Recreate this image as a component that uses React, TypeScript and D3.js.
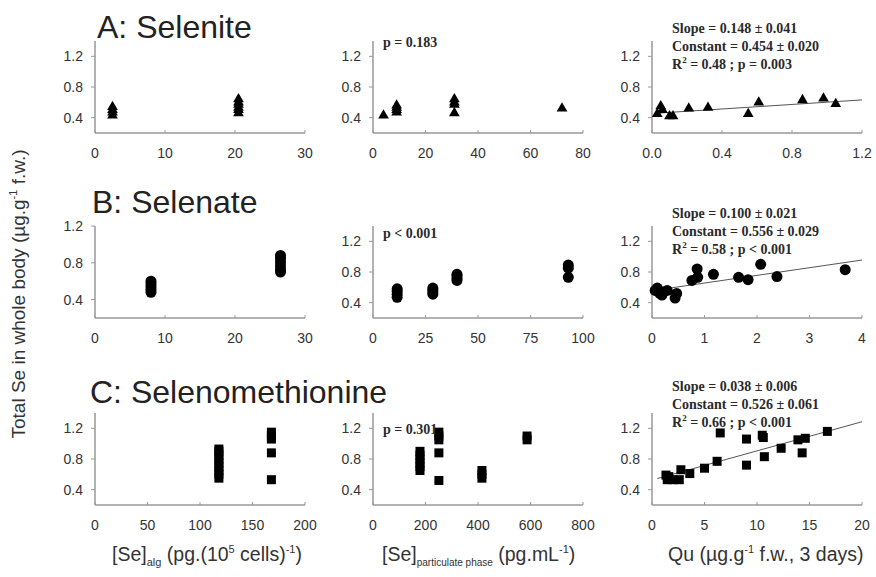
import React from 'react'
import * as d3 from 'd3'

// A: Selenite  [x, total Se]
const seleniteAlg = [[2.5, 0.43], [2.5, 0.47], [2.5, 0.5], [2.5, 0.54], [20.5, 0.46], [20.5, 0.5], [20.5, 0.53], [20.5, 0.57], [20.5, 0.6], [20.5, 0.64]]
const seleniteWater = [[4, 0.43], [9, 0.47], [9, 0.5], [9, 0.53], [9, 0.56], [31, 0.46], [31, 0.57], [31, 0.6], [31, 0.64], [72, 0.52]]
const seleniteQu = [[0.03, 0.45], [0.05, 0.55], [0.06, 0.5], [0.1, 0.42], [0.12, 0.42], [0.21, 0.52], [0.32, 0.53], [0.55, 0.45], [0.61, 0.6], [0.86, 0.63], [0.98, 0.65], [1.05, 0.58]]

// B: Selenate
const selenateAlg = [[8, 0.48], [8, 0.51], [8, 0.54], [8, 0.57], [8, 0.6], [26.5, 0.7], [26.5, 0.73], [26.5, 0.77], [26.5, 0.81], [26.5, 0.85], [26.5, 0.88]]
const selenateWater = [[11.5, 0.47], [11.5, 0.51], [11.5, 0.55], [11.5, 0.58], [28.5, 0.51], [28.5, 0.54], [28.5, 0.57], [28.5, 0.59], [40, 0.69], [40, 0.72], [40, 0.75], [40, 0.77], [93, 0.73], [93, 0.85], [93, 0.89]]
const selenateQu = [[0.06, 0.56], [0.1, 0.59], [0.15, 0.52], [0.19, 0.5], [0.21, 0.54], [0.29, 0.56], [0.44, 0.46], [0.47, 0.52], [0.76, 0.69], [0.86, 0.84], [0.87, 0.73], [1.17, 0.77], [1.65, 0.73], [1.83, 0.7], [2.07, 0.9], [2.38, 0.74], [3.68, 0.83]]

// C: Selenomethionine
const semetAlg = [[118, 0.55], [118, 0.6], [118, 0.65], [118, 0.7], [118, 0.75], [118, 0.8], [118, 0.85], [118, 0.9], [118, 0.93], [168, 0.53], [168, 0.88], [168, 1.06], [168, 1.1], [168, 1.15]]
const semetWater = [[179, 0.65], [179, 0.7], [179, 0.75], [179, 0.8], [179, 0.85], [179, 0.9], [251, 0.52], [251, 0.88], [251, 1.05], [251, 1.1], [251, 1.15], [415, 0.55], [415, 0.6], [415, 0.65], [587, 1.05], [587, 1.1]]
const semetQu = [[1.33, 0.59], [1.45, 0.53], [1.6, 0.57], [2.0, 0.53], [2.6, 0.53], [2.75, 0.66], [3.6, 0.61], [5.0, 0.68], [6.2, 0.77], [6.5, 1.14], [9.0, 0.72], [9.0, 1.06], [10.5, 1.11], [10.6, 1.08], [10.7, 0.83], [12.3, 0.94], [13.9, 1.05], [14.3, 0.88], [14.6, 1.07], [16.7, 1.16]]

// regression fits [slope, constant, from, to]
const seleniteFit = [0.148, 0.454, 0.03, 1.2]
const selenateFit = [0.100, 0.556, 0.06, 4]
const semetFit = [0.038, 0.526, 0.5, 20]

const seleniteNotes = ['Slope = 0.148 \u00b1 0.041', 'Constant = 0.454 \u00b1 0.020', 'R|2| = 0.48 ; p = 0.003']
const selenateNotes = ['Slope = 0.100 \u00b1 0.021', 'Constant = 0.556 \u00b1 0.029', 'R|2| = 0.58 ; p < 0.001']
const semetNotes = ['Slope = 0.038 \u00b1 0.006', 'Constant = 0.526 \u00b1 0.061', 'R|2| = 0.66 ; p < 0.001']

const yTicks = [0.4, 0.8, 1.2]
const colLeft = [95, 373, 652]
const rowBottom = [133, 318, 505]
const W = 210
const H = 92
const axisColor = '#999'
const textColor = '#333'

function Marker({ shape, x, y }) {
  if (shape === 'circle') return <circle cx={x} cy={y} r={5.5} fill="#000" />
  if (shape === 'square') return <rect x={x - 4.5} y={y - 4.5} width={9} height={9} fill="#000" />
  const p = d3.symbol(d3.symbolTriangle, 50)()
  return <path d={p} transform={`translate(${x},${y})`} fill="#000" />
}

function Panel({ col, row, xDomain, yDomain = [0.2, 1.4], xTicks, xFmt = d3.format('d'), data, shape, fit = null, notes = null, notesY = 0, pLabel = null, pY = 0 }) {
  const left = colLeft[col]
  const bottom = rowBottom[row]
  const x = d3.scaleLinear().domain(xDomain).range([left, left + W])
  const y = d3.scaleLinear().domain(yDomain).range([bottom, bottom - H])
  const line = d3.line().x(d => x(d[0])).y(d => y(d[1]))
  return (
    <g>
      <line x1={left} x2={left} y1={bottom} y2={bottom - H} stroke={axisColor} strokeWidth={1.5} />
      <line x1={left} x2={left + W} y1={bottom} y2={bottom} stroke={axisColor} strokeWidth={1.5} />
      {yTicks.map(t => (
        <g key={t}>
          <line x1={left - 4} x2={left} y1={y(t)} y2={y(t)} stroke={axisColor} />
          <text x={left - 12} y={y(t) + 5} textAnchor="end" fontSize={14} fill={textColor}>{d3.format('.1f')(t)}</text>
        </g>
      ))}
      {xTicks.map(t => (
        <g key={t}>
          <line x1={x(t)} x2={x(t)} y1={bottom} y2={bottom - 3} stroke={axisColor} />
          <text x={x(t)} y={bottom + 25} textAnchor="middle" fontSize={14} fill={textColor}>{xFmt(t)}</text>
        </g>
      ))}
      {fit && (
        <path d={line([[fit[2], fit[1] + fit[0] * fit[2]], [fit[3], fit[1] + fit[0] * fit[3]]])} stroke="#555" strokeWidth={1} fill="none" />
      )}
      {data.map((d, i) => <Marker key={i} shape={shape} x={x(d[0])} y={y(d[1])} />)}
      {pLabel && (
        <text x={left + 10} y={pY} fontFamily="Liberation Serif" fontWeight="bold" fontSize={14} fill="#2a2a2a">{pLabel}</text>
      )}
      {notes && notes.map((n, i) => {
        const parts = n.split('|')
        return (
          <text key={i} x={left + 20} y={notesY + i * 18} fontFamily="Liberation Serif" fontWeight="bold" fontSize={14} fill="#2a2a2a">
            {parts.length === 1 ? n : (
              <>
                {parts[0]}
                <tspan fontSize={9} dy={-6}>{parts[1]}</tspan>
                <tspan dy={6}>{parts[2]}</tspan>
              </>
            )}
          </text>
        )
      })}
    </g>
  )
}

export default function App() {
  const fmt1 = d3.format('.1f')
  return (
    <svg width={876} height={577} style={{ position: 'absolute', left: 0, top: 0, background: '#fff' }} fontFamily="Liberation Sans, Arial, sans-serif">
      <rect width={876} height={577} fill="#fff" />
      <text x={97} y={38} fontSize={32} fill="#222">A: Selenite</text>
      <text x={92} y={213} fontSize={32} fill="#222">B: Selenate</text>
      <text x={90} y={403} fontSize={32} fill="#222">C: Selenomethionine</text>

      <Panel col={0} row={0} xDomain={[0, 30]} xTicks={[0, 10, 20, 30]} data={seleniteAlg} shape="triangle" />
      <Panel col={1} row={0} xDomain={[0, 80]} xTicks={[0, 20, 40, 60, 80]} data={seleniteWater} shape="triangle" pLabel="p = 0.183" pY={47} />
      <Panel col={2} row={0} xDomain={[0, 1.2]} xTicks={[0, 0.4, 0.8, 1.2]} xFmt={fmt1} data={seleniteQu} shape="triangle" fit={seleniteFit} notes={seleniteNotes} notesY={33} />

      <Panel col={0} row={1} xDomain={[0, 30]} yDomain={[0.2, 1.2]} xTicks={[0, 10, 20, 30]} data={selenateAlg} shape="circle" />
      <Panel col={1} row={1} xDomain={[0, 100]} xTicks={[0, 25, 50, 75, 100]} data={selenateWater} shape="circle" pLabel="p < 0.001" pY={238} />
      <Panel col={2} row={1} xDomain={[0, 4]} xTicks={[0, 1, 2, 3, 4]} data={selenateQu} shape="circle" fit={selenateFit} notes={selenateNotes} notesY={218} />

      <Panel col={0} row={2} xDomain={[0, 200]} xTicks={[0, 50, 100, 150, 200]} data={semetAlg} shape="square" />
      <Panel col={1} row={2} xDomain={[0, 800]} xTicks={[0, 200, 400, 600, 800]} data={semetWater} shape="square" pLabel="p = 0.301" pY={434} />
      <Panel col={2} row={2} xDomain={[0, 20]} xTicks={[0, 5, 10, 15, 20]} data={semetQu} shape="square" fit={semetFit} notes={semetNotes} notesY={391} />

      <text transform="translate(25,294) rotate(-90)" textAnchor="middle" fontSize={19} fill={textColor}>
        Total Se in whole body (µg.g<tspan fontSize={11} dy={-8}>-1</tspan><tspan dy={8}> f.w.)</tspan>
      </text>
      <text x={112} y={561} fontSize={19.5} fill={textColor}>
        [Se]<tspan fontSize={11} dy={5}>alg</tspan><tspan dy={-5}> (pg.(10</tspan><tspan fontSize={11} dy={-8}>5</tspan><tspan dy={8}> cells)</tspan><tspan fontSize={11} dy={-8}>-1</tspan><tspan dy={8}>)</tspan>
      </text>
      <text x={382} y={561} fontSize={19.5} fill={textColor}>
        [Se]<tspan fontSize={10} dy={5}>particulate phase</tspan><tspan dy={-5}> (pg.mL</tspan><tspan fontSize={11} dy={-8}>-1</tspan><tspan dy={8}>)</tspan>
      </text>
      <text x={668} y={561} fontSize={19.5} fill={textColor}>
        Qu (µg.g<tspan fontSize={11} dy={-8}>-1</tspan><tspan dy={8}> f.w., 3 days)</tspan>
      </text>
    </svg>
  )
}
